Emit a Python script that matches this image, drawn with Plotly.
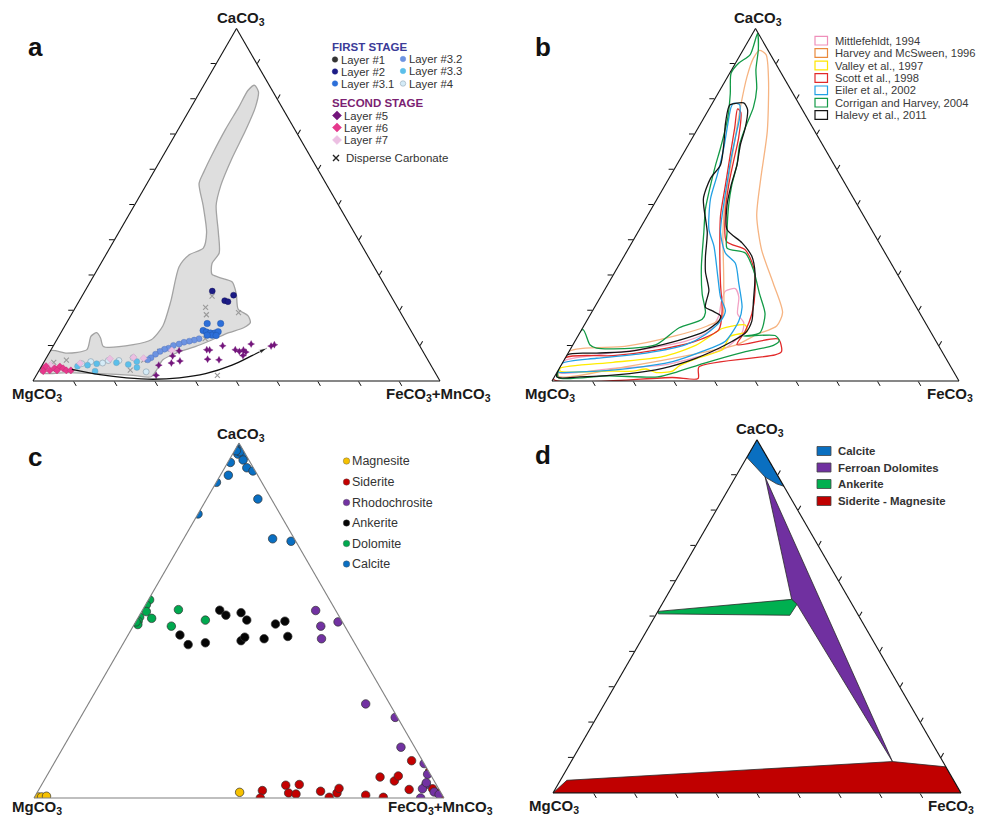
import math
import plotly.graph_objects as go

W, H = 985, 820
OX, OY = 8, 8   # page offset of the plot div (default body margin)

# ---------------- Panel a : (CaCO3 %, FeCO3+MnCO3 %) ----------------
a_field_ca = [2.4, 8.6, 7.9, 8.9, 12.7, 13.7, 12.2, 9.8, 10.3, 11.7, 15.6, 22.8, 32.4, 35.8, 37.7,
              42.1, 49.8, 56.0, 59.4, 64.2, 71.4, 77.7, 82.5, 83.9, 82.0, 77.7, 70.9, 63.2, 55.5,
              49.8, 42.1, 36.3, 33.4, 30.3, 29.4, 28.1, 24.7, 20.4, 18.5, 16.6, 15.1, 13.7, 11.7,
              9.8, 7.9, 6.0, 3.1, 1.2, 1.6, 2.1, 2.4]
a_field_fe = [0.7, 0.0, 4.4, 8.8, 7.9, 8.8, 10.5, 12.4, 19.5, 23.2, 24.1, 22.5, 19.7, 20.5, 23.0,
              21.6, 16.9, 12.8, 12.3, 11.9, 11.6, 11.7, 11.6, 12.5, 14.4, 15.8, 16.7, 17.3, 18.4,
              20.1, 24.5, 27.6, 27.3, 28.8, 31.0, 34.9, 37.6, 40.2, 43.6, 45.1, 44.2, 41.3, 38.2,
              35.1, 31.2, 28.9, 28.8, 28.4, 23.8, 15.5, 7.2]

layer1_ca, layer1_fe = [], []
layer2_ca = [25.5, 24.35, 22.8, 22.5]
layer2_fe = [31.3, 37.1, 35.7, 36.65]
layer31_ca = [16.3, 16.3, 14.3, 13.9, 13.6, 13.6, 14.0, 13.0, 13.0, 12.9]
layer31_fe = [34.65, 37.95, 34.65, 35.65, 36.8, 37.9, 38.5, 37.5, 36.3, 38.55]
layer32_ca = [12.0, 11.6, 11.3, 11.0, 10.5, 10.1, 9.3, 9.0, 8.4, 7.6, 6.6, 6.0]
layer32_fe = [34.8, 33.8, 32.75, 31.6, 30.65, 29.45, 28.65, 27.8, 27.0, 26.3, 25.7, 25.2]
layer33_ca = [5.5, 3.85, 4.7, 5.2, 4.9, 2.8, 4.5, 4.2]
layer33_fe = [22.75, 23.6, 21.05, 17.9, 13.2, 13.85, 11.15, 8.85]
layer4_ca = [6.6, 5.8, 5.8, 5.1, 5.5, 4.9, 2.6]
layer4_fe = [21.3, 18.2, 15.6, 14.55, 11.45, 9.55, 26.5]
layer5_ca = [8.6, 7.1, 5.7, 5.1, 4.5, 1.6, 8.9, 8.8, 10.0, 8.9, 8.4, 8.8, 8.2, 10.5, 6.0, 6.2,
             7.2, 9.9, 10.3]
layer5_fe = [31.6, 30.75, 33.25, 31.45, 28.65, 29.45, 38.25, 39.0, 41.6, 45.25, 46.5, 47.3, 48.2,
             48.35, 42.7, 39.8, 48.0, 53.55, 54.15]
layer6_ca = [3.6, 4.2, 3.0, 3.6, 4.1, 3.6, 3.0, 3.0, 2.8, 3.0]
layer6_fe = [0.9, 1.1, 2.6, 3.5, 4.55, 5.6, 6.7, 7.8, 1.1, 4.4]
layer7_ca = [4.5, 5.0, 6.3, 6.7, 6.45, 8.7]
layer7_fe = [2.05, 9.1, 15.75, 21.35, 23.95, 29.75]
disperse_ca = [24.1, 20.9, 18.8, 19.4, 8.4, 5.9, 3.1, 1.6, 5.9, 5.3, 12.0]
disperse_fe = [31.95, 31.95, 33.2, 40.8, 26.9, 24.25, 22.35, 44.5, 5.25, 2.45, 36.3]
trend_ca = [3.3, 1.8, 0.9, 0.5, 0.9, 2.1, 4.5, 7.2, 9.3]
trend_fe = [7.9, 15.55, 22.5, 29.2, 35.5, 41.35, 46.65, 50.2, 52.75]

# ---------------- Panel b : outlines (CaCO3 %, FeCO3 %) ----------------
mitt_ca = [25.5, 26.2, 23.8, 19.0, 16.6, 13.7, 9.3, 6.45, 4.5, 3.6, 2.4, 5.7, 7.2, 9.15, 11.3,
           14.15, 18.5, 22.3]
mitt_fe = [29.85, 31.95, 34.0, 36.1, 38.8, 39.85, 37.95, 31.25, 24.95, 13.2, 0.4, 0.0, 6.15,
           18.55, 27.25, 31.5, 31.75, 30.4]
harvey_ca = [8.4, 9.8, 12.7, 15.6, 18.0, 27.6, 42.1, 51.7, 63.2, 77.7, 86.3, 91.6, 93.8, 92.6,
             85.4, 70.9, 57.5, 46.9, 37.2, 27.6, 19.4, 15.6, 13.2, 10.3, 7.4, 4.0, 1.4]
harvey_fe = [0.0, 13.0, 23.65, 30.35, 32.8, 28.4, 20.95, 16.75, 12.6, 7.45, 4.75, 3.7, 4.1, 6.3,
             10.5, 17.45, 22.55, 26.85, 32.9, 40.6, 46.95, 47.4, 43.7, 40.3, 30.4, 15.9, 0.9]
valley_ca = [3.6, 5.3, 6.9, 10.1, 14.9, 15.6, 15.9, 14.0, 12.7, 10.3, 8.85, 6.3, 4.3, 2.8, 2.4,
             3.4, 2.8, 2.8, 2.8]
valley_fe = [0.2, 12.35, 23.75, 30.25, 34.35, 36.4, 39.55, 40.9, 37.45, 37.45, 37.4, 32.15, 29.1,
             28.2, 24.4, 21.4, 18.5, 12.0, 0.6]
scott_ca = [77.2, 76.2, 69.0, 62.3, 55.5, 47.8, 39.6, 37.2, 32.4, 25.7, 19.0, 14.15, 10.3, 11.9,
            8.4, 7.4, 4.0, 0.7, 1.0, 0.5, 6.6, 7.2, 8.85, 11.3, 14.6, 19.9, 27.6, 37.25, 46.9,
            55.5, 64.2, 71.9]
scott_fe = [7.0, 8.3, 11.35, 13.45, 15.65, 18.7, 23.05, 28.9, 33.3, 37.05, 39.6, 40.4, 40.3,
            49.65, 52.2, 51.1, 34.1, 35.55, 29.1, 0.15, 0.0, 11.4, 21.55, 29.65, 33.7, 31.85,
            27.6, 22.6, 17.95, 14.85, 11.7, 8.95]
eiler_ca = [78.8, 78.4, 74.8, 69.0, 63.2, 57.5, 51.7, 42.1, 36.3, 33.4, 27.6, 20.9, 17.0, 11.3,
            8.4, 5.5, 3.6, 2.6, 2.6, 5.0, 6.45, 7.9, 10.3, 13.2, 17.0, 19.9, 23.8, 29.5, 38.2,
            43.0, 51.7, 58.4, 66.1, 72.9, 77.7]
eiler_fe = [5.2, 6.9, 8.7, 10.55, 12.4, 14.45, 16.55, 20.35, 24.45, 28.35, 32.1, 36.25, 37.4,
            36.95, 32.7, 26.85, 17.3, 5.6, 0.3, 0.0, 7.7, 19.15, 27.75, 31.1, 32.9, 32.65, 29.5,
            26.0, 20.7, 17.05, 13.1, 11.4, 9.15, 6.75, 5.15]
corrigan_ca = [98.6, 94.1, 88.3, 83.0, 77.7, 71.9, 67.1, 61.3, 55.55, 49.8, 42.1, 37.7, 36.3,
               31.5, 24.7, 19.0, 13.7, 12.7, 12.9, 11.45, 10.1, 8.2, 5.0, 2.6, 1.15, 1.45, 0.9,
               3.1, 14.6, 10.3, 9.3, 9.3, 10.3, 15.1, 17.5, 19.4, 24.7, 32.4, 42.1, 48.8, 55.5,
               61.3, 66.1, 74.8, 81.5, 87.3, 90.2, 92.6]
corrigan_fe = [1.2, 3.65, 5.95, 8.8, 10.65, 11.55, 12.55, 14.8, 16.4, 18.5, 21.95, 24.15, 29.35,
               33.75, 38.65, 42.85, 44.25, 40.75, 48.35, 50.1, 49.35, 43.0, 34.8, 29.5, 25.4,
               13.1, 1.15, 0.0, 0.3, 4.15, 6.3, 15.25, 20.45, 23.7, 28.15, 28.0, 24.55, 20.5,
               16.25, 13.3, 11.2, 9.55, 8.35, 5.8, 3.05, 0.35, 0.8, 2.4]
halevy_ca = [78.4, 78.9, 77.0, 71.9, 67.1, 61.3, 55.5, 49.8, 43.0, 39.2, 35.4, 30.5, 22.8, 17.0,
             13.6, 11.2, 9.3, 6.45, 3.6, 2.1, 1.15, 1.15, 7.4, 7.9, 8.4, 10.3, 12.7, 14.15, 17.0,
             18.5, 19.9, 20.9, 25.7, 31.0, 35.3, 42.1, 51.7, 57.5, 61.3, 67.1, 72.9, 77.7]
halevy_fe = [4.6, 7.65, 9.55, 11.55, 12.75, 14.8, 16.25, 18.1, 21.5, 27.1, 31.4, 34.65, 38.1,
             40.6, 40.7, 38.6, 36.35, 32.1, 25.4, 18.05, 6.3, 0.6, 0.0, 7.0, 14.9, 22.05, 28.15,
             30.6, 32.5, 32.15, 29.45, 27.25, 25.7, 22.2, 20.05, 17.1, 11.35, 10.2, 10.75, 8.65,
             6.15, 4.55]

# ---------------- Panel c : mineral analyses (CaCO3 %, FeCO3+MnCO3 %) ----------------
magnesite_ca = [0.2, 0.3, 0.3, 0.3, 0.5, 1.6]
magnesite_fe = [0.0, 0.1, 0.9, 1.7, 2.8, 49.35]
siderite_ca = [2.1, 0.0, 3.6, 3.8, 1.4, 1.1, 1.9, 0.2, 1.4, 2.7, 0.8, 0.2, 5.9, 4.8, 6.2, 10.5,
               2.4, 7.6, 2.6, 1.4, 0.2, 0.0]
siderite_fe = [54.65, 55.2, 59.6, 62.8, 61.4, 63.35, 68.95, 71.9, 73.2, 73.05, 80.5, 85.1, 81.45,
               85.5, 85.75, 86.85, 90.3, 92.7, 95.9, 97.9, 99.5, 100.0]
rhodo_ca = [52.8, 48.4, 44.85, 49.6, 26.5, 22.7, 14.3, 9.7, 6.7, 3.8, 2.6, 0.0, 1.7, 1.0, 4.3]
rhodo_fe = [42.3, 45.75, 47.7, 49.35, 67.65, 76.75, 82.35, 90.3, 92.65, 93.7, 93.45, 94.3, 96.75,
            98.3, 93.55]
ankerite_ca = [52.9, 51.5, 52.2, 50.1, 49.0, 49.8, 45.5, 44.85, 44.3, 45.3, 43.7, 43.2, 45.9]
ankerite_fe = [18.85, 21.05, 24.4, 26.85, 34.4, 36.3, 39.15, 33.7, 28.35, 28.75, 19.95, 16.0, 12.65]
dolomite_ca = [53.05, 50.1, 48.4, 55.8, 54.4, 52.5, 50.6, 50.95, 49.8, 48.85, 49.6]
dolomite_fe = [8.7, 16.75, 9.3, 0.3, 0.2, 1.15, 3.4, 0.3, 0.5, 0.9, 0.1]
calcite_ca = [99.4, 98.5, 98.0, 96.4, 96.85, 95.2, 93.0, 92.1, 94.5, 90.9, 88.9, 80.0, 84.2, 73.0,
              72.3, 97.5, 97.8]
calcite_fe = [0.3, 0.0, 1.5, 3.3, 1.3, 3.4, 5.4, 7.35, 0.65, 1.95, 0.05, 0.0, 12.5, 21.7, 26.55,
              1.45, 0.45]

# ---------------- Panel d : stability fields (CaCO3 %, FeCO3 %) ----------------
calcite_field_ca = [100.0, 95.0, 89.4, 87.5, 86.8]
calcite_field_fe = [0.0, 0.0, 7.3, 11.05, 13.2]
ferroan_ca = [89.4, 54.8, 53.4, 8.9]
ferroan_fe = [7.3, 31.1, 33.1, 78.75]
ankerite_field_ca = [51.4, 54.8, 53.4, 50.3, 50.7]
ankerite_field_fe = [0.0, 31.1, 33.1, 32.9, 0.5]
sidmag_ca = [0.0, 3.6, 8.9, 7.4, 0.0]
sidmag_fe = [0.0, 1.6, 78.75, 92.6, 100.0]

TICKVALS = [10, 20, 30, 40, 50, 60, 70, 80, 90]
FONT = "Liberation Sans, Arial, Helvetica, sans-serif"


def comp(ca, fe):
    return dict(a=ca, b=[100 - x - y for x, y in zip(ca, fe)], c=fe)


fig = go.Figure()


def add_points(sub, ca, fe, color, size, symbol="circle", lcolor="#555", lwidth=0.6, name=""):
    fig.add_trace(go.Scatterternary(
        subplot=sub, mode="markers", name=name, showlegend=False, **comp(ca, fe),
        marker=dict(color=color, size=size, symbol=symbol, line=dict(color=lcolor, width=lwidth))))


def add_poly(sub, ca, fe, line, fill, width=1.2, spline=True, name=""):
    fig.add_trace(go.Scatterternary(
        subplot=sub, mode="lines", name=name, showlegend=False,
        **comp(ca + ca[:1], fe + fe[:1]), fill="toself", fillcolor=fill,
        line=dict(color=line, width=width, shape="spline" if spline else "linear",
                  smoothing=0.7)))


# ---- panel a ----
add_poly("ternary", a_field_ca, a_field_fe, "#a3a3a3", "#dedede", 1.3, name="field")
add_points("ternary", disperse_ca, disperse_fe, "#9a9a9a", 5, "x-thin", "#9a9a9a", 1.1, "Disperse Carbonate")
add_points("ternary", layer1_ca, layer1_fe, "#333333", 5.5, name="Layer #1")
add_points("ternary", layer4_ca, layer4_fe, "#d4ebf7", 6, lcolor="#8a9aa8", name="Layer #4")
add_points("ternary", layer33_ca, layer33_fe, "#5bbfea", 6, lcolor="#7a9ab0", lwidth=0.4, name="Layer #3.3")
add_points("ternary", layer32_ca, layer32_fe, "#6c93e2", 6, lcolor="#5070b0", lwidth=0.4, name="Layer #3.2")
add_points("ternary", layer31_ca, layer31_fe, "#2c6fd9", 6.5, lcolor="#2050a0", lwidth=0.4, name="Layer #3.1")
add_points("ternary", layer2_ca, layer2_fe, "#1c1c86", 6, lcolor="#101050", lwidth=0.4, name="Layer #2")
add_points("ternary", layer7_ca, layer7_fe, "#ecbfe2", 5.5, "diamond", "#c9a0c0", 0.4, "Layer #7")
add_points("ternary", layer6_ca, layer6_fe, "#e5388c", 5.5, "diamond", "#c02a70", 0.4, "Layer #6")
add_points("ternary", layer5_ca, layer5_fe, "#74167c", 5, "star-diamond", "#74167c", 0.3, "Layer #5")
fig.add_trace(go.Scatterternary(
    subplot="ternary", mode="lines+markers", showlegend=False, **comp(trend_ca, trend_fe),
    line=dict(color="#111", width=1.3, shape="spline"),
    marker=dict(symbol="arrow", angleref="previous", color="#111",
                size=[0] * (len(trend_ca) - 1) + [8])))

# ---- panel b ----
b_series = [
    ("Mittlefehldt, 1994", mitt_ca, mitt_fe, "#f2a2c4", "#ef8fba"),
    ("Harvey and McSween, 1996", harvey_ca, harvey_fe, "#f6b482", "#ea8a3c"),
    ("Valley et al., 1997", valley_ca, valley_fe, "#ffec00", "#ffe600"),
    ("Scott et al., 1998", scott_ca, scott_fe, "#e22a2a", "#e22a2a"),
    ("Eiler et al., 2002", eiler_ca, eiler_fe, "#22a0e4", "#22a0e4"),
    ("Corrigan and Harvey, 2004", corrigan_ca, corrigan_fe, "#129a46", "#129a46"),
    ("Halevy et al., 2011", halevy_ca, halevy_fe, "#151515", "#151515"),
]
for name, ca, fe, col, _ in b_series:
    add_poly("ternary2", ca, fe, col, "rgba(0,0,0,0)", 1.3, name=name)

# ---- panel c ----
c_series = [
    ("Magnesite", magnesite_ca, magnesite_fe, "#f6c100"),
    ("Siderite", siderite_ca, siderite_fe, "#c40000"),
    ("Rhodochrosite", rhodo_ca, rhodo_fe, "#7232a2"),
    ("Ankerite", ankerite_ca, ankerite_fe, "#050505"),
    ("Dolomite", dolomite_ca, dolomite_fe, "#00a94f"),
    ("Calcite", calcite_ca, calcite_fe, "#0a6fc2"),
]
for name, ca, fe, col in c_series:
    add_points("ternary3", ca, fe, col, 8.5, lcolor="#333", lwidth=0.7, name=name)

# ---- panel d ----
d_series = [
    ("Calcite", calcite_field_ca, calcite_field_fe, "#0a6fc0"),
    ("Ferroan Dolomites", ferroan_ca, ferroan_fe, "#7030a0"),
    ("Ankerite", ankerite_field_ca, ankerite_field_fe, "#00b050"),
    ("Siderite - Magnesite", sidmag_ca, sidmag_fe, "#c00000"),
]
for name, ca, fe, col in d_series:
    add_poly("ternary4", ca, fe, "#2a2a2a", col, 0.8, spline=False, name=name)


# ---- ternary layouts (positions given in page pixels) ----
def tern_layout(left, right, bottom, ticks=True, color="#111"):
    w = right - left
    top = bottom - w * math.sqrt(3) / 2

    def ax():
        return dict(title=dict(text=""), showgrid=False, showline=True,
                    linecolor=color, linewidth=1.1, ticks="outside" if ticks else "",
                    ticklen=5, tickwidth=1, tickcolor=color, tickmode="array",
                    tickvals=TICKVALS, showticklabels=False, min=0)
    return dict(domain=dict(x=[(left - OX) / W, (right - OX) / W],
                            y=[1 - (bottom - OY) / H, 1 - (top - OY) / H]),
                sum=100, bgcolor="rgba(0,0,0,0)", aaxis=ax(), baxis=ax(), caxis=ax())


fig.update_layout(
    width=W, height=H, margin=dict(l=0, r=0, t=0, b=0),
    paper_bgcolor="white", plot_bgcolor="rgba(0,0,0,0)", showlegend=False,
    font=dict(family=FONT, color="#222"),
    ternary=tern_layout(33, 440, 381),
    ternary2=tern_layout(552, 959, 381),
    ternary3=tern_layout(34, 444, 798, ticks=False, color="#808080"),
    ternary4=tern_layout(553, 961, 793),
    xaxis=dict(domain=[0, 1], range=[OX, W + OX], visible=False, fixedrange=True),
    yaxis=dict(domain=[0, 1], range=[H + OY, OY], visible=False, fixedrange=True),
)

# ---- texts and hand-drawn legends (page-pixel overlay) ----
ann = []


def text(x, y, s, size=11, color="#333", bold=False, anchor="left"):
    ann.append(dict(x=x, y=y, xref="x", yref="y", text=("<b>%s</b>" % s) if bold else s,
                    showarrow=False, xanchor=anchor, yanchor="middle",
                    font=dict(family=FONT, size=size, color=color)))


def key(x, y, color, symbol="circle", size=6, lcolor="#555", lwidth=0.5):
    fig.add_trace(go.Scatter(x=[x], y=[y], mode="markers", showlegend=False, hoverinfo="skip",
                             marker=dict(color=color, size=size, symbol=symbol,
                                         line=dict(color=lcolor, width=lwidth))))


CA, MG = "CaCO<sub>3</sub>", "MgCO<sub>3</sub>"
FEMN = "FeCO<sub>3</sub>+MnCO<sub>3</sub>"
FE = "FeCO<sub>3</sub>"
vertex_labels = [
    (241, 18, CA, "center"), (37, 394, MG, "center"), (438, 394, FEMN, "center"),
    (758, 18, CA, "center"), (550, 394, MG, "center"), (975, 394, FE, "right"),
    (241, 434, CA, "center"), (37, 807, MG, "center"), (440, 807, FEMN, "center"),
    (760, 429, CA, "center"), (554, 806, MG, "center"), (976, 806, FE, "right"),
]
for x, y, s, anc in vertex_labels:
    text(x, y, s, 15, "#1a1a1a", True, anc)

# panel letters
for lx, ly, s in [(26, 47, "a"), (533, 47, "b"), (26, 457, "c"), (533, 455, "d")]:
    text(lx, ly, s, 26, "#111", True)

# legend a
LA = 11.3
text(330, 46.5, "FIRST STAGE", 11.5, "#3b3b98", True)
a_keys1 = [("Layer #1", "#333333", 59.5), ("Layer #2", "#1c1c86", 71.5), ("Layer #3.1", "#2c6fd9", 83.5)]
a_keys2 = [("Layer #3.2", "#6c93e2", 59), ("Layer #3.3", "#5bbfea", 71), ("Layer #4", "#d4ebf7", 83.5)]
for s, col, y in a_keys1:
    key(335, y, col, size=5.5, lcolor=col)
    text(339, y, s, LA)
for s, col, y in a_keys2:
    key(403, y, col, size=5.5, lcolor="#8a9aa8" if s == "Layer #4" else col)
    text(407, y, s, LA)
text(330, 102.5, "SECOND STAGE", 11.5, "#7b1f72", True)
for s, col, sym, y in [("Layer #5", "#74167c", "diamond", 115.5), ("Layer #6", "#e5388c", "diamond", 127.5),
                       ("Layer #7", "#ecbfe2", "diamond", 140)]:
    key(337, y, col, sym, 7, col)
    text(342, y, s, LA)
key(336, 158, "#222", "x-thin", 6, "#222", 1.4)
text(344, 158, "Disperse Carbonate", 11.5)

# legend b
b_rows = [40.7, 53.0, 65.5, 78.0, 90.3, 102.7, 115.0]
shapes = []
for (name, _, _, col, edge), y in zip(b_series, b_rows):
    shapes.append(dict(type="rect", xref="x", yref="y", x0=815, x1=827.5, y0=y - 4.3, y1=y + 4.3,
                       line=dict(color=edge, width=1.2), fillcolor="white"))
    text(833, y, name, 11.2, "#3a3a3a")

# legend c
for (name, _, _, col), y in zip(c_series, [461, 482, 502.5, 523, 543.5, 564]):
    key(346.5, y, col, size=6.5, lcolor="#555", lwidth=0.4)
    text(350, y, name, 12.5, "#333")

# legend d
for (name, _, _, col), y in zip(d_series, [451, 467.5, 484, 501]):
    shapes.append(dict(type="rect", xref="x", yref="y", x0=817, x1=831, y0=y - 4.5, y1=y + 4.5,
                       line=dict(color="#444", width=0.8), fillcolor=col))
    text(836, y, name, 11.4, "#333", True)

fig.update_layout(annotations=ann, shapes=shapes)
fig.write_html("out.html")
